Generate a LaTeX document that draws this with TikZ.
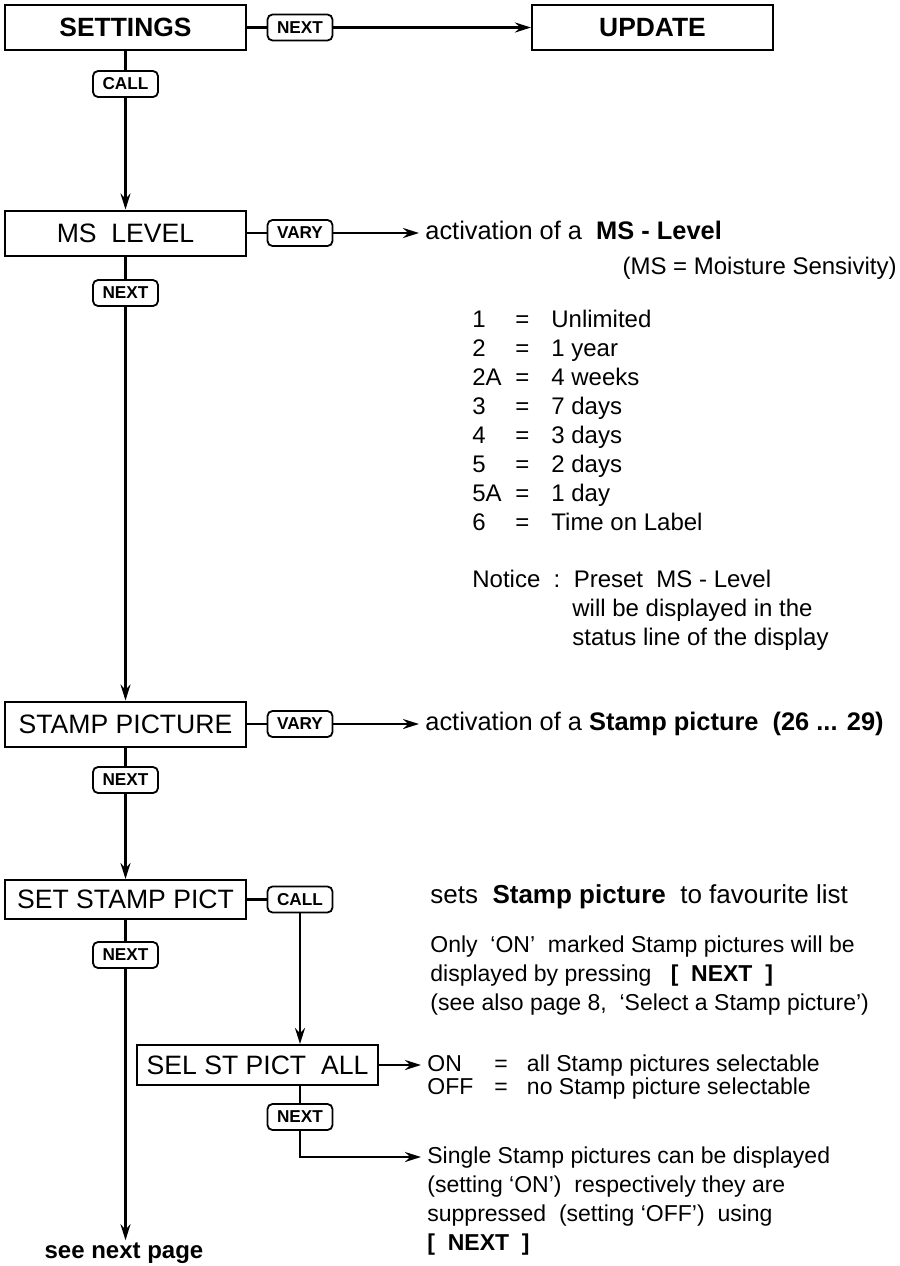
\documentclass[tikz,border=0pt]{standalone}
\usepackage{fontspec}
\setmainfont{Liberation Sans}
\usetikzlibrary{arrows.meta}

\tikzset{
  box/.style={draw, line width=1pt, minimum width=120.5pt, minimum height=22.5pt,
    inner sep=0pt, font=\fontsize{13.3}{15}\selectfont},
  key/.style={draw, rounded corners=2.5pt, line width=0.9pt, minimum width=32.5pt,
    minimum height=13pt, inner sep=0pt, font=\fontsize{8.6}{9}\selectfont\bfseries},
  wire/.style={line width=1.2pt},
  flow/.style={line width=1.2pt, -{Stealth[length=8pt,width=5pt]}},
  txt/.style={anchor=west, inner xsep=0pt, inner ysep=0pt, text height=9pt,
    text depth=2.6pt, font=\fontsize{12}{14}\selectfont},
  small/.style={txt, font=\fontsize{11.5}{14}\selectfont},
  lead/.style={inner xsep=3pt},
}

\begin{document}
\begin{tikzpicture}[x=0.5pt, y=-0.5pt]
\useasboundingbox (0,0) rectangle (900,1266);
% main column
\node[box, font=\fontsize{13.2}{15}\selectfont\bfseries] (settings) at (125.5,27.5) {SETTINGS};
\node[key] (next1) at (300,27.5) {NEXT};
\node[box, font=\fontsize{13.2}{15}\selectfont\bfseries] (update) at (652.5,27.5) {UPDATE};
\node[key] (call1) at (125.5,84) {CALL};
\node[box] (mslevel) at (125.5,233) {MS\ \ LEVEL};
\node[key] (vary1) at (300,233) {VARY};
\node[key] (next2) at (125.5,293) {NEXT};
\node[box] (stamppic) at (125.5,724) {STAMP PICTURE};
\node[key] (vary2) at (300,724) {VARY};
\node[key] (next3) at (125.5,780) {NEXT};
\node[box, minimum height=19.5pt] (setstamp) at (125.5,899.5) {SET STAMP PICT};
\node[key] (call2) at (300,899.5) {CALL};
\node[key] (next4) at (125.5,955) {NEXT};
\node[box, minimum height=20pt] (selall) at (257.5,1065) {SEL ST PICT\ \ ALL};
\node[key] (next5) at (300,1117) {NEXT};
\node[inner sep=1pt, font=\fontsize{12}{14}\selectfont\bfseries] (seenext) at (124,1253) {see next page};

% MS level text
\node[txt, lead, font=\fontsize{12.7}{14}\selectfont] (msact) at (419,233) {activation of a\ \ \textbf{MS - Level}};
\node[txt, anchor=east] (msnote) at (897,268) {(MS = Moisture Sensivity)};
\foreach \lv/\val [count=\i from 0] in {1/Unlimited, 2/1 year, 2A/4 weeks, 3/7 days,
    4/3 days, 5/2 days, 5A/1 day, 6/Time on Label}{
  \node[txt] (lv\i) at (472,{321+29*\i}) {\lv};
  \node[txt] (eq\i) at (515,{321+29*\i}) {=};
  \node[txt] (val\i) at (551,{321+29*\i}) {\val};
}
\node[txt] (notice) at (472,581) {Notice\ \ :\ \ Preset\ \ MS - Level};
\node[txt] (notice2) at (572,610) {will be displayed in the};
\node[txt] (notice3) at (572,639) {status line of the display};

% stamp picture text
\node[txt, lead, font=\fontsize{12.7}{14}\selectfont] (stact) at (419,724) {activation of a \textbf{Stamp picture\ \ (26 ... 29)}};
\node[txt, font=\fontsize{13}{15}\selectfont] (sets) at (430,897) {sets\ \ \textbf{Stamp picture}\ \ to favourite list};
\node[small] (only1) at (430,946) {Only\ \ ‘ON’\ \ marked Stamp pictures will be};
\node[small] (only2) at (430,975) {displayed by pressing\ \ \ \textbf{[\ \ NEXT\ \ ]}};
\node[small] (only3) at (430,1004) {(see also page 8,\ \ ‘Select a Stamp picture’)};
\node[small, lead] (on) at (421,1065) {ON};
\node[small] (off) at (427,1088) {OFF};
\node[small] (oneq) at (494,1065) {=\ \ \ all Stamp pictures selectable};
\node[small] (offeq) at (494,1088) {=\ \ \ no Stamp picture selectable};
\node[small, lead] (single) at (421,1157) {Single Stamp pictures can be displayed};
\node[small] (single2) at (427,1186) {(setting ‘ON’)\ \ respectively they are};
\node[small] (single3) at (427,1215) {suppressed\ \ (setting ‘OFF’)\ \ using};
\node[small, font=\fontsize{11.5}{14}\selectfont\bfseries] (single4) at (427,1244) {[\ \ NEXT\ \ ]};

% connectors
\draw[wire] (settings) -- (next1);
\draw[flow] (next1) -- (update);
\draw[wire] (settings) -- (call1);
\draw[flow] (call1) -- (mslevel);
\draw[wire] (mslevel) -- (vary1);
\draw[flow] (vary1) -- (vary1 -| msact.west);
\draw[wire] (mslevel) -- (next2);
\draw[flow] (next2) -- (stamppic);
\draw[wire] (stamppic) -- (vary2);
\draw[flow] (vary2) -- (vary2 -| stact.west);
\draw[wire] (stamppic) -- (next3);
\draw[flow] (next3) -- (setstamp);
\draw[wire] (setstamp) -- (call2);
\draw[flow] (call2) -- (call2 |- selall.north);
\draw[wire] (setstamp) -- (next4);
\draw[flow] (next4) -- (next4 |- seenext.north);
\draw[flow] (selall) -- (selall -| on.west);
\draw[wire] (selall.south -| next5) -- (next5);
\draw[flow] (next5) |- (single.west);
\end{tikzpicture}
\end{document}
